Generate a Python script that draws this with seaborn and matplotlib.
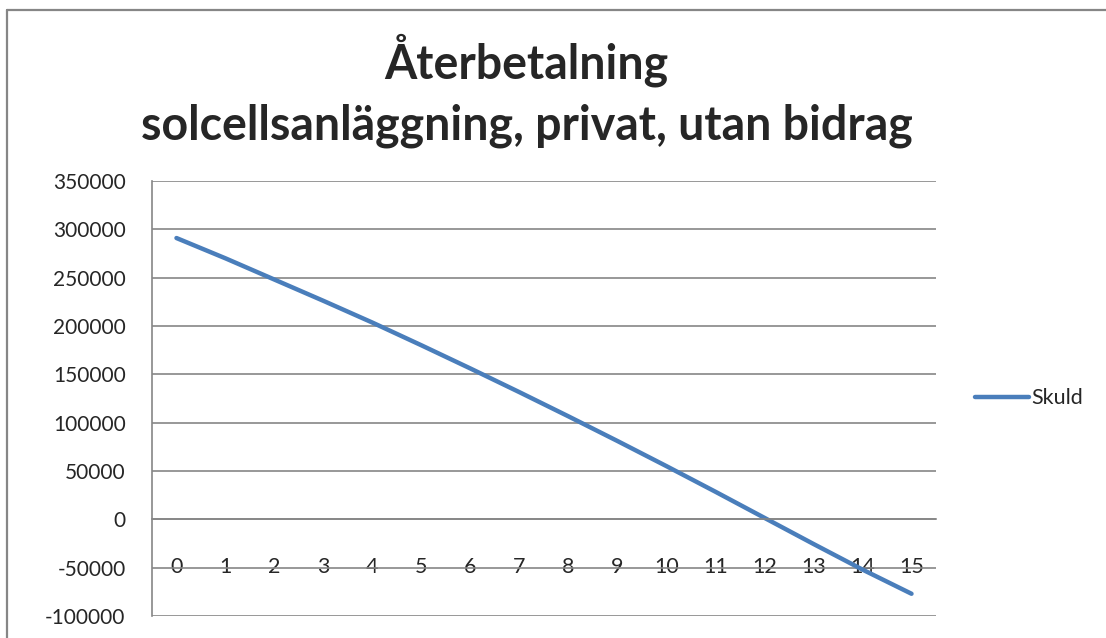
import matplotlib
matplotlib.use("Agg")
import matplotlib.pyplot as plt
import seaborn as sns
import pandas as pd
from matplotlib.lines import Line2D

# Data
years = list(range(16))
skuld = [291000, 270000, 248000, 226000, 203500, 180000, 156000, 131500,
         106500, 81000, 55000, 28500, 1500, -25500, -52000, -77000]
y_ticks = list(range(-100000, 350001, 50000))
title = "Återbetalning\nsolcellsanläggning, privat, utan bidrag"
series_name = "Skuld"

df = pd.DataFrame({"year": years, series_name: skuld})

sns.set_style("white")
plt.rcParams["font.family"] = ["Lato", "DejaVu Sans"]

grid_col = "#868686"
line_col = "#4A7EBB"

fig = plt.figure(figsize=(11.06, 6.38), dpi=100)
ax = fig.add_axes([0.1374, 0.0345, 0.7089, 0.6818])

sns.lineplot(data=df, x="year", y=series_name, ax=ax, color=line_col,
             linewidth=3.2, label=series_name, solid_capstyle="round")

ax.set_xlim(-0.5, 15.5)
ax.set_ylim(-100000, 350000)
ax.set_yticks(y_ticks)
ax.set_yticklabels([str(v) for v in y_ticks], fontsize=15)
ax.yaxis.grid(True, color=grid_col, linewidth=1.2)
ax.set_axisbelow(True)

# category axis crossing at zero, ticks between categories
ax.spines["bottom"].set_position(("data", 0))
ax.spines["bottom"].set_color(grid_col)
ax.spines["bottom"].set_linewidth(1.2)
ax.spines["left"].set_color(grid_col)
ax.spines["left"].set_linewidth(1.2)
ax.spines["top"].set_visible(False)
ax.spines["right"].set_visible(False)

ax.set_xticks([i - 0.5 for i in range(17)])
ax.set_xticklabels([])
ax.set_xticks(years, minor=True)
ax.set_xticklabels([str(y) for y in years], minor=True, fontsize=15.5)
ax.tick_params(axis="x", which="major", direction="out", length=6,
               color=grid_col, width=1.2)
ax.tick_params(axis="x", which="minor", length=0, pad=27)
ax.tick_params(axis="y", direction="out", length=6, color=grid_col,
               width=1.2, pad=13)
ax.set_xlabel("")
ax.set_ylabel("")

fig.text(0.476, 0.858, title, fontsize=33.5, fontweight="bold", ha="center",
         va="center", linespacing=1.45)

ax.legend(loc="center left", bbox_to_anchor=(1.05, 0.5), frameon=False,
          borderaxespad=0, borderpad=0, fontsize=15.5, handlelength=2.5,
          handletextpad=0.1)

# outer chart border (top and left edges visible)
fig.lines.append(Line2D([0.0065, 1.0], [0.984, 0.984], transform=fig.transFigure,
                        color=grid_col, linewidth=1.6))
fig.lines.append(Line2D([0.0065, 0.0065], [0.0, 0.984], transform=fig.transFigure,
                        color=grid_col, linewidth=1.6))

plt.savefig("out.png", dpi=100)
